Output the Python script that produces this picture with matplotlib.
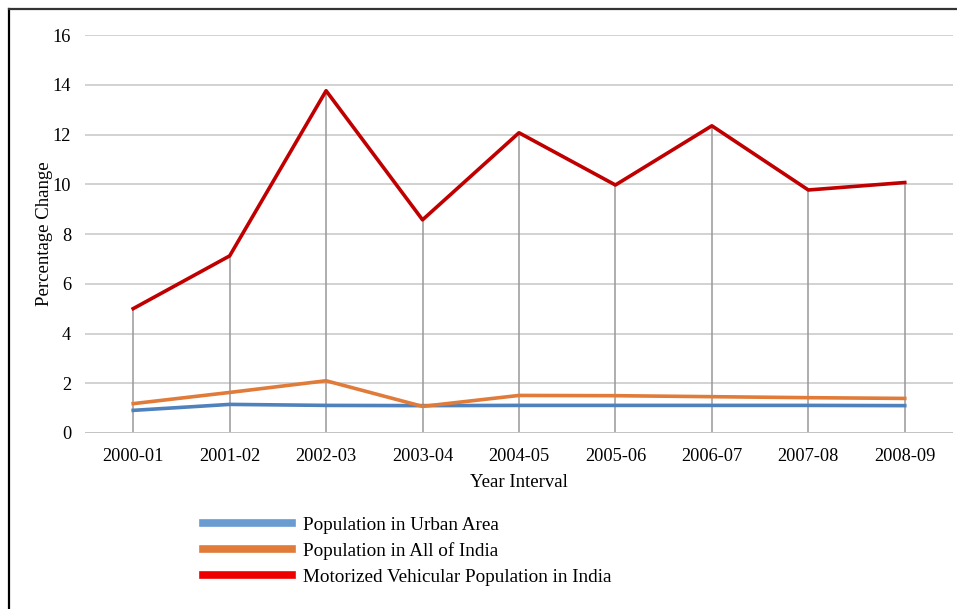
import numpy as np
import matplotlib.pyplot as plt
from matplotlib.lines import Line2D

plt.rcParams['font.family'] = ['Liberation Serif', 'DejaVu Serif']

# data
years = ['2000-01', '2001-02', '2002-03', '2003-04', '2004-05',
         '2005-06', '2006-07', '2007-08', '2008-09']
urban = [0.91, 1.15, 1.11, 1.10, 1.11, 1.11, 1.11, 1.11, 1.10]
all_india = [1.18, 1.63, 2.10, 1.07, 1.51, 1.50, 1.46, 1.42, 1.39]
vehicles = [5.0, 7.12, 13.76, 8.57, 12.07, 9.97, 12.35, 9.77, 10.07]

fig = plt.figure(figsize=(9.57, 6.09), dpi=100)
ax = fig.add_axes([0.0888, 0.289, 0.907, 0.6535])

x = np.arange(len(years))

# horizontal gridlines
ax.set_yticks(np.arange(0, 17, 2))
ax.yaxis.grid(True, color='#cfcfcf', linewidth=1.3)
ax.set_axisbelow(True)

# drop lines from the highest series down to zero
top = np.maximum(np.maximum(urban, all_india), vehicles)
ax.vlines(x, 0, top, color='#999999', linewidth=1.1, zorder=1)
ax.axhline(0, color='#c4c4c4', linewidth=1.4, zorder=1)

ax.plot(x, urban, color='#4f81bd', linewidth=2.6, label='Population in Urban Area', zorder=3)
ax.plot(x, all_india, color='#e07b39', linewidth=2.6, label='Population in All of India', zorder=3)
ax.plot(x, vehicles, color='#c00000', linewidth=2.6, label='Motorized Vehicular Population in India', zorder=4)

ax.set_xlim(-0.5, 8.5)
ax.set_ylim(0, 16)
ax.set_xticks(x)
ax.set_xticklabels(years, fontsize=13.2)
ax.tick_params(axis='y', labelsize=13.2, length=0, pad=10)
ax.tick_params(axis='x', length=0, pad=11)
for s in ax.spines.values():
    s.set_visible(False)

ax.set_xlabel('Year Interval', fontsize=13.5, labelpad=6)
ax.set_ylabel('Percentage Change', fontsize=13.5, labelpad=0)

# legend with thick bar handles
handles = [Line2D([], [], color='#6a9bd1', linewidth=5.5),
           Line2D([], [], color='#e07b39', linewidth=5.5),
           Line2D([], [], color='#ee0000', linewidth=5.5)]
labels = ['Population in Urban Area', 'Population in All of India',
          'Motorized Vehicular Population in India']
fig.legend(handles, labels, loc='upper left', bbox_to_anchor=(0.204, 0.164),
           frameon=False, fontsize=13.8, handlelength=4.65, handletextpad=0.55,
           labelspacing=0.42, borderaxespad=0)

# frame on left and top edges
fig.add_artist(Line2D([0.0095, 0.0095], [0, 0.986], color='black', linewidth=1.6,
                      transform=fig.transFigure))
fig.add_artist(Line2D([0.0095, 1.0], [0.986, 0.986], color='#333333', linewidth=1.6,
                      transform=fig.transFigure))

fig.savefig('out.png', dpi=100)
